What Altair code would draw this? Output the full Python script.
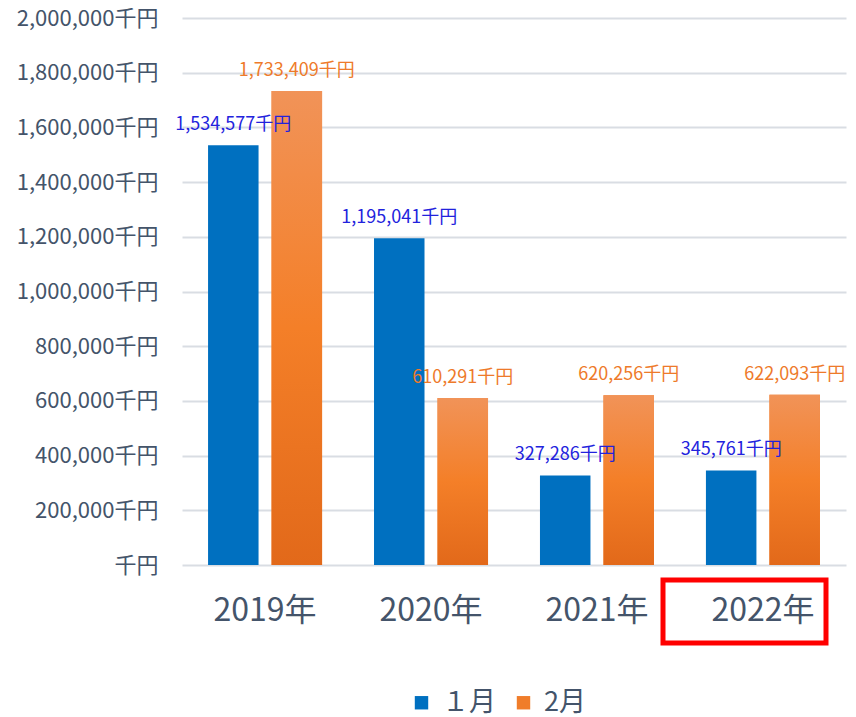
import altair as alt
import pandas as pd

years = ["2019年", "2020年", "2021年", "2022年"]
series = ["１月", "2月"]
jan = [1534577, 1195041, 327286, 345761]
feb = [1733409, 610291, 620256, 622093]
y_ticks = [0, 200000, 400000, 600000, 800000, 1000000, 1200000, 1400000, 1600000, 1800000, 2000000]

rows = []
for i, yr in enumerate(years):
    rows.append({"year": yr, "series": series[0], "value": jan[i]})
    rows.append({"year": yr, "series": series[1], "value": feb[i]})
df = pd.DataFrame(rows)
df["label"] = df["value"].map(lambda v: f"{v:,}千円")

FONT = "Noto Sans CJK JP"
AXIS_COLOR = "#44546A"

x = alt.X(
    "year:N", sort=years,
    scale=alt.Scale(paddingInner=0.313, paddingOuter=0.157),
    axis=alt.Axis(title=None, labelAngle=0, labelFontSize=32, labelColor=AXIS_COLOR,
                  labelPadding=30, ticks=False, domain=False, grid=False, labelFont=FONT),
)
xo = alt.XOffset("series:N", sort=series, scale=alt.Scale(paddingInner=0.205))
y = alt.Y(
    "value:Q",
    scale=alt.Scale(domain=[0, 2000000], nice=False),
    axis=alt.Axis(title=None, values=y_ticks,
                  labelExpr="datum.value == 0 ? '千円' : format(datum.value, ',') + '千円'",
                  labelFontSize=22, labelColor=AXIS_COLOR, labelPadding=24, ticks=False,
                  domain=False, gridColor="#D9DDE3", gridWidth=2, labelFont=FONT),
)

base = alt.Chart(df)

bars = base.mark_bar().encode(
    x=x, xOffset=xo, y=y,
    color=alt.Color("series:N", sort=series,
                    scale=alt.Scale(domain=series, range=["#0070C0", "#F07D2A"]),
                    legend=alt.Legend(title=None, orient="none", legendX=226, legendY=671,
                                      direction="horizontal", symbolType="square",
                                      symbolSize=180, labelFontSize=27, labelColor=AXIS_COLOR,
                                      labelFont=FONT, labelOffset=7, columnPadding=14)),
)

grad = base.transform_filter(alt.datum.series == "2月").mark_bar(
    color={"gradient": "linear", "x1": 0, "y1": 0, "x2": 0, "y2": 1,
           "stops": [{"offset": 0, "color": "#F19358"},
                     {"offset": 0.5, "color": "#F47F28"},
                     {"offset": 1, "color": "#E2691A"}]}
).encode(x=x, xOffset=xo, y=y)

labels = base.mark_text(fontSize=18, baseline="bottom", dy=-11, font=FONT).encode(
    x=x, xOffset=xo, y=y, text="label:N",
    color=alt.condition(alt.datum.series == "１月", alt.value("#2222DD"), alt.value("#EE7A2A")),
)

highlight = alt.Chart(pd.DataFrame({"k": [0]})).mark_rect(
    fillOpacity=0, stroke="#FF0000", strokeWidth=5
).encode(x=alt.value(481), x2=alt.value(644), y=alt.value(562), y2=alt.value(625))

chart = alt.layer(bars, grad, labels, highlight).properties(
    width=664, height=547,
    autosize=alt.AutoSizeParams(type="none"),
    padding={"left": 174, "top": 10, "right": 2, "bottom": 152},
).configure_view(strokeWidth=0)

chart.save("out.html", embed_options={"renderer": "svg", "actions": False})
